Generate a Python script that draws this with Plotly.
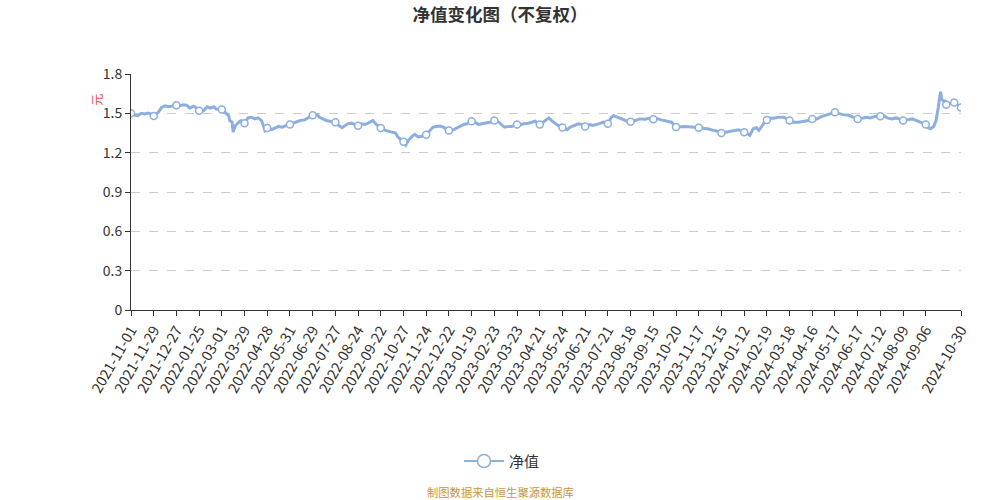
import plotly.graph_objects as go

day_idx = [0, 3, 6, 9, 12, 15, 18, 20, 24, 27, 30, 33, 36, 40, 43, 46, 49, 52, 55, 58,
           60, 64, 67, 70, 73, 75, 80, 83, 86, 87, 89, 90, 92, 95, 97, 100, 103, 106, 109, 112,
           115, 118, 120, 124, 127, 130, 133, 136, 140, 143, 146, 149, 153, 156, 160, 164, 166, 169, 172, 175,
           180, 183, 186, 189, 191, 194, 200, 203, 206, 209, 213, 216, 220, 224, 227, 230, 233, 235, 240, 242,
           244, 247, 250, 253, 256, 260, 263, 266, 269, 272, 275, 280, 284, 287, 290, 293, 296, 300, 303, 306,
           309, 313, 316, 320, 324, 327, 329, 332, 335, 340, 343, 346, 350, 356, 360, 363, 368, 371, 373, 376,
           380, 384, 387, 390, 394, 397, 400, 404, 407, 412, 416, 420, 423, 425, 428, 432, 437, 440, 444, 448,
           453, 456, 460, 463, 467, 472, 476, 480, 484, 488, 494, 500, 504, 508, 513, 516, 520, 523, 526, 530,
           535, 540, 542, 545, 548, 551, 553, 557, 560, 563, 566, 570, 575, 580, 583, 588, 592, 597, 600, 604,
           608, 613, 616, 620, 623, 627, 632, 636, 640, 644, 648, 651, 655, 660, 663, 666, 670, 674, 680, 683,
           688, 692, 696, 700, 702, 704, 707, 709, 711, 712, 713, 714, 716, 717, 718, 721, 725, 727, 731]
nav = [1.500, 1.4875, 1.4825, 1.500, 1.495, 1.5025, 1.495, 1.48, 1.5075, 1.545, 1.5575, 1.55, 1.555, 1.5625, 1.5575, 1.565, 1.5625, 1.54, 1.555, 1.54,
       1.52, 1.52, 1.55, 1.54, 1.55, 1.5325, 1.53, 1.5075, 1.4825, 1.445, 1.4325, 1.3575, 1.4075, 1.4325, 1.445, 1.425, 1.465, 1.47, 1.4575, 1.465,
       1.445, 1.37, 1.3875, 1.375, 1.39, 1.40, 1.395, 1.405, 1.415, 1.425, 1.4375, 1.445, 1.45, 1.465, 1.485, 1.49, 1.47, 1.4575, 1.445, 1.44,
       1.4325, 1.4075, 1.39, 1.41, 1.42, 1.425, 1.405, 1.42, 1.415, 1.425, 1.445, 1.415, 1.3875, 1.37, 1.365, 1.3575, 1.35, 1.32, 1.2825, 1.2575,
       1.29, 1.32, 1.34, 1.32, 1.325, 1.3375, 1.37, 1.395, 1.40, 1.4025, 1.395, 1.37, 1.375, 1.39, 1.40, 1.415, 1.42, 1.44, 1.4325, 1.415,
       1.42, 1.425, 1.4325, 1.445, 1.4325, 1.4075, 1.395, 1.40, 1.40, 1.415, 1.4125, 1.42, 1.425, 1.44, 1.415, 1.4325, 1.465, 1.44, 1.425, 1.4075,
       1.3925, 1.375, 1.395, 1.4075, 1.42, 1.415, 1.40, 1.415, 1.4075, 1.42, 1.4325, 1.42, 1.47, 1.4825, 1.47, 1.4575, 1.44, 1.435, 1.445, 1.4575,
       1.455, 1.4625, 1.455, 1.46, 1.45, 1.44, 1.4325, 1.395, 1.40, 1.40, 1.395, 1.39, 1.39, 1.3825, 1.37, 1.365, 1.35, 1.355, 1.3575, 1.37,
       1.375, 1.355, 1.35, 1.3325, 1.3825, 1.39, 1.37, 1.42, 1.45, 1.465, 1.4625, 1.47, 1.47, 1.445, 1.4325, 1.4325, 1.44, 1.445, 1.4575, 1.4575,
       1.475, 1.49, 1.50, 1.5075, 1.50, 1.49, 1.485, 1.47, 1.4575, 1.4625, 1.47, 1.465, 1.475, 1.4775, 1.4825, 1.465, 1.4575, 1.465, 1.445, 1.45,
       1.4575, 1.445, 1.4325, 1.415, 1.39, 1.3825, 1.40, 1.445, 1.545, 1.62, 1.665, 1.6075, 1.59, 1.60, 1.565, 1.575, 1.5825, 1.57, 1.545]

# points where the chart draws hollow circle symbols
symbol_idx = list(range(0, 701, 20)) + [718, 725, 731]

# x-axis tick labels and their trading-day index
tick_idx = list(range(0, 701, 20)) + [731]
tick_labels = ["2021-11-01", "2021-11-29", "2021-12-27", "2022-01-25", "2022-03-01", "2022-03-29",
               "2022-04-28", "2022-05-31", "2022-06-29", "2022-07-27", "2022-08-24", "2022-09-22",
               "2022-10-27", "2022-11-24", "2022-12-22", "2023-01-19", "2023-02-23", "2023-03-23",
               "2023-04-21", "2023-05-24", "2023-06-21", "2023-07-21", "2023-08-18", "2023-09-15",
               "2023-10-20", "2023-11-17", "2023-12-15", "2024-01-12", "2024-02-19", "2024-03-18",
               "2024-04-16", "2024-05-17", "2024-06-17", "2024-07-12", "2024-08-09", "2024-09-06",
               "2024-10-30"]

y_ticks = [0, 0.3, 0.6, 0.9, 1.2, 1.5, 1.8]
y_labels = ["0", "0.3", "0.6", "0.9", "1.2", "1.5", "1.8"]

LINE = "#8DAFE0"
FONT = "Noto Sans CJK SC"

lookup = dict(zip(day_idx, nav))
sym_x = [i for i in symbol_idx if i in lookup]
sym_y = [lookup[i] for i in sym_x]

fig = go.Figure()
fig.add_trace(go.Scatter(x=day_idx, y=nav, mode="lines",
                         line=dict(color=LINE, width=3), showlegend=False, hoverinfo="skip"))
fig.add_trace(go.Scatter(x=sym_x, y=sym_y, mode="markers",
                         marker=dict(symbol="circle", size=7, color="white",
                                     line=dict(color=LINE, width=1.5)),
                         showlegend=False))
fig.add_trace(go.Scatter(x=[None], y=[None], mode="lines+markers", name="净值",
                         line=dict(color=LINE, width=2),
                         marker=dict(symbol="circle", size=13, color="white",
                                     line=dict(color=LINE, width=1.5))))

fig.update_layout(
    width=1000, height=500,
    margin=dict(l=131, r=39, t=74, b=190),
    paper_bgcolor="white", plot_bgcolor="white",
    font=dict(family=FONT, color="#333333"),
    title=dict(text="<b>净值变化图（不复权）</b>", x=0.5, xanchor="center", y=0.97, yanchor="middle",
               font=dict(size=17.5, color="#333333", family=FONT)),
    xaxis=dict(range=[0, 731], tickmode="array", tickvals=tick_idx, ticktext=tick_labels,
               tickangle=-60, tickfont=dict(size=14.5, color="#333333", family=FONT),
               showgrid=False, zeroline=False, showline=True, linecolor="#333333", linewidth=1,
               ticks="outside", ticklen=5, tickcolor="#333333", automargin=False),
    yaxis=dict(range=[0, 1.8], tickmode="array", tickvals=y_ticks, ticktext=y_labels,
               tickfont=dict(size=14, color="#333333", family=FONT),
               showgrid=True, gridcolor="#cccccc", griddash="dash", gridwidth=1,
               zeroline=False, showline=True, linecolor="#333333", linewidth=1,
               ticks="outside", ticklen=5, tickcolor="#333333", automargin=False),
    legend=dict(orientation="h", x=0.447, xanchor="center", y=-0.641, yanchor="middle",
                font=dict(size=15, color="#333333", family=FONT), itemwidth=40),
    showlegend=True,
)

fig.add_annotation(text="元", xref="paper", yref="paper", x=-0.042, y=0.892,
                   xanchor="center", yanchor="middle",
                   showarrow=False, textangle=-90, font=dict(size=12, color="#f04a4a", family=FONT))
fig.add_annotation(text="制图数据来自恒生聚源数据库", xref="paper", yref="paper", x=0.4446, y=-0.772,
                   xanchor="center", yanchor="middle", showarrow=False,
                   font=dict(size=11.3, color="#c8973a", family=FONT))

fig.write_html("out.html", config={"displayModeBar": False},
               post_script="document.body.style.margin='0';document.body.style.overflow='hidden';")
